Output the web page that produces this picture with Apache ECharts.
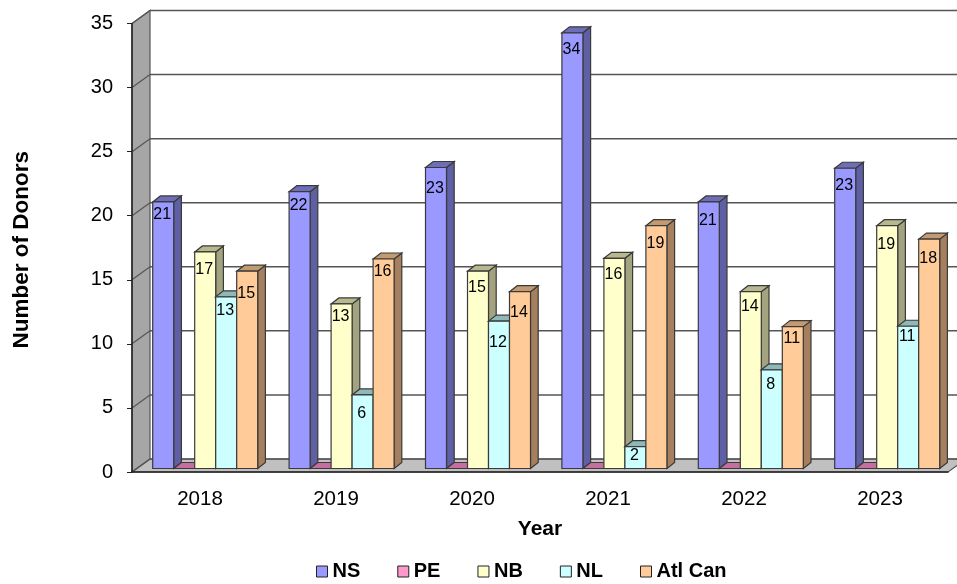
<!DOCTYPE html>
<html><head><meta charset="utf-8">
<style>html,body{margin:0;padding:0;background:#fff}#c{width:957px;height:584px}</style>
<script src="https://cdn.jsdelivr.net/npm/echarts@6/dist/echarts.min.js"></script>
</head><body><div id="c"></div>
<script>
const years = ['2018','2019','2020','2021','2022','2023'];
const yTicks = [0,5,10,15,20,25,30,35];
const NS = [20.8,21.6,23.49,34,20.8,23.43];
const PE = [0,0,0,0,0,0];
const NB = [16.9,12.84,15.4,16.4,13.8,18.95];
const NL = [13.4,5.74,11.5,1.7,7.7,11.1];
const AtlCan = [15.4,16.35,13.8,18.95,11.07,17.9];

const names = ['NS','PE','NB','NL','Atl Can'];
const values = [NS,PE,NB,NL,AtlCan];
const front = ['#9999ff','#ff99cc','#ffffcc','#ccffff','#ffcc99'];
const topFace = ['#6e6eb8','#c46fa0','#b8b88f','#8fb8b8','#c49a70'];
const sideFace = ['#5f5fa3','#99607f','#a3a37f','#7fa3a3','#a67f5f'];
// how far each value label sits below its bar's top edge
const labelDrop = [
  [13,14,21,17,19,17],
  [0,0,0,0,0,0],
  [18,13,16,16,15,19],
  [14,19,21,9,15,10],
  [22,13,21,18,12,19]
];

const OUT = '#3a3a3a';
const GRID = '#555555';
const WALL = {dx:18, dy:-13};
const BAR = {dx:7.7, dy:-6, shiftX:5.2, shiftY:-3.5, drift:0.4, widthShare:105/136/5};

function wallItem(params, api){
  const cs = params.coordSys;
  const y = api.coord([0,api.value(1)])[1];
  const x0 = cs.x, x1 = cs.x+cs.width;
  const kids = [];
  if (params.dataIndex === 0){
    const yT = cs.y;
    kids.push({type:'polygon',shape:{points:[[x0,y],[x0,yT],[x0+WALL.dx,yT+WALL.dy],[x0+WALL.dx,y+WALL.dy]]},
      style:{fill:'#a6a6a6',stroke:GRID,lineWidth:1.2}});
    kids.push({type:'polygon',shape:{points:[[x0,y],[x0+WALL.dx,y+WALL.dy],[x1+WALL.dx,y+WALL.dy],[x1,y]]},
      style:{fill:'#c0c0c0',stroke:GRID,lineWidth:1.2}});
  }
  kids.push({type:'line',shape:{x1:x0,y1:y,x2:x0+WALL.dx,y2:y+WALL.dy},style:{stroke:GRID,lineWidth:1.2}});
  kids.push({type:'line',shape:{x1:x0+WALL.dx,y1:y+WALL.dy,x2:x1+WALL.dx,y2:y+WALL.dy},style:{stroke:GRID,lineWidth:1.5}});
  return {type:'group',children:kids};
}

function barRender(si){
  return function(params, api){
    const i = api.value(0), v = api.value(1);
    const c = api.coord([i,v]), b = api.coord([i,0]);
    const w = api.size([1,0])[0]*BAR.widthShare;
    const x = c[0]-2.5*w+si*w+BAR.shiftX+i*BAR.drift;
    const yT = c[1]+BAR.shiftY, yB = b[1]+BAR.shiftY;
    const d = BAR;
    const st = f=>({fill:f,stroke:OUT,lineWidth:1.2});
    const kids = [
      {type:'polygon',shape:{points:[[x+w,yT],[x+w+d.dx,yT+d.dy],[x+w+d.dx,yB+d.dy],[x+w,yB]]},style:st(sideFace[si])},
      {type:'polygon',shape:{points:[[x,yT],[x+d.dx,yT+d.dy],[x+w+d.dx,yT+d.dy],[x+w,yT]]},style:st(topFace[si])},
      {type:'rect',shape:{x:x,y:yT,width:w,height:yB-yT},style:st(front[si])}
    ];
    if (v>0) kids.push({type:'text',style:{text:String(Math.round(v)),x:x+w/2-1,y:yT+labelDrop[si][i],
      align:'center',verticalAlign:'middle',fill:'#000',font:'16px "Liberation Sans"'}});
    return {type:'group',children:kids};
  };
}

const series = [{
  type:'custom',name:'walls',coordinateSystem:'cartesian2d',silent:true,z:1,clip:false,
  data:yTicks.map(t=>[0,t]),encode:{x:0,y:1},
  renderItem:wallItem
}];
names.forEach((n,si)=>{
  series.push({
    type:'custom',name:n,coordinateSystem:'cartesian2d',z:2+si,clip:false,
    itemStyle:{color:front[si]},
    data:values[si].map((v,i)=>[i,v]),encode:{x:0,y:1},
    renderItem:barRender(si)
  });
});

const chart = echarts.init(document.getElementById('c'),null,{renderer:'canvas'});
chart.setOption({
  animation:false,
  backgroundColor:'#fff',
  textStyle:{fontFamily:'"Liberation Sans"'},
  grid:{left:132,right:9,top:23.5,height:448.5,containLabel:false,outerBoundsMode:'none'},
  xAxis:{type:'category',data:years,name:'Year',nameLocation:'middle',nameGap:47,
    nameTextStyle:{fontFamily:'"Liberation Sans"',fontWeight:'bold',fontSize:21,color:'#000'},
    axisLine:{lineStyle:{color:'#222',width:1.5}},axisTick:{length:6,lineStyle:{color:'#222'}},
    axisLabel:{fontFamily:'"Liberation Sans"',fontSize:20.5,color:'#000',margin:17},z:50},
  yAxis:{type:'value',min:0,max:35,interval:5,name:'Number of Donors',nameLocation:'middle',nameGap:99,
    nameTextStyle:{fontFamily:'"Liberation Sans"',fontWeight:'bold',fontSize:22.5,color:'#000',padding:[0,4,0,0]},
    axisLine:{show:true,lineStyle:{color:'#222',width:1.5}},axisTick:{show:true,length:5,lineStyle:{color:'#222'}},
    splitLine:{show:false},
    axisLabel:{fontFamily:'"Liberation Sans"',fontSize:20,color:'#000',margin:19,padding:[4,0,0,0]},z:50},
  legend:{data:names,left:316,top:561.5,padding:0,icon:'rect',itemWidth:11,itemHeight:11,itemGap:37,
    itemStyle:{borderColor:'#222',borderWidth:1},
    textStyle:{fontFamily:'"Liberation Sans"',fontWeight:'bold',fontSize:20,color:'#000'},selectedMode:false},
  series
});
</script></body></html>
